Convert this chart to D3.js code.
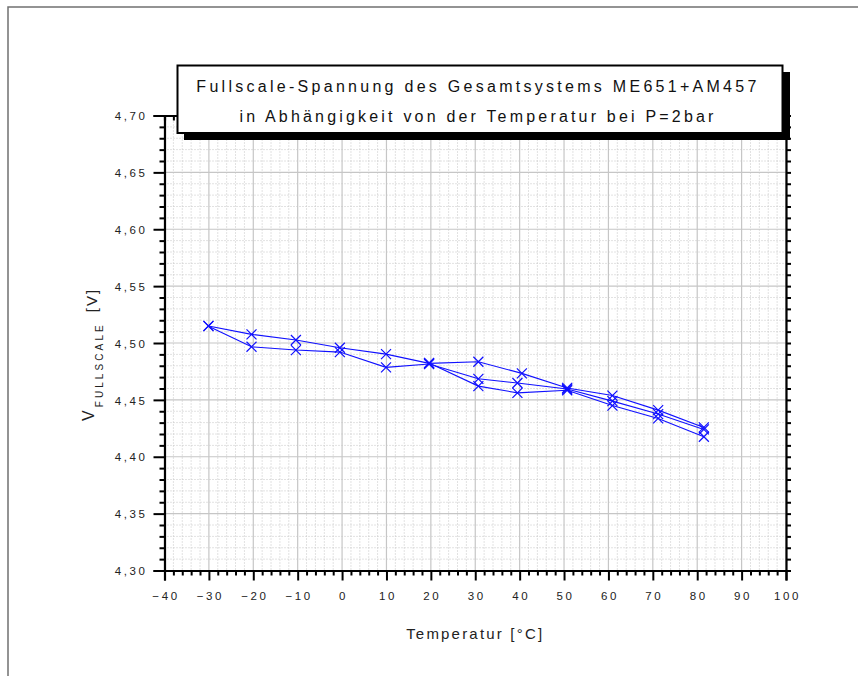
<!DOCTYPE html>
<html><head><meta charset="utf-8">
<script src="https://cdn.jsdelivr.net/npm/d3@7/dist/d3.min.js"></script>
<style>
html,body{margin:0;padding:0;background:#fff;}
svg{display:block;font-family:"Liberation Sans",Arial,sans-serif;}
</style></head>
<body>
<svg id="chart" width="858" height="676"></svg>
<script>
// ---- data ----
const titleLines = ["Fullscale-Spannung des Gesamtsystems ME651+AM457",
                    "in Abhängigkeit von der Temperatur bei P=2bar"];
const xTickValues = [-40,-30,-20,-10,0,10,20,30,40,50,60,70,80,90,100];
const yTickValues = [4.30,4.35,4.40,4.45,4.50,4.55,4.60,4.65,4.70];
const xTitle = "Temperatur [°C]";

const run1Temp = [-30.1,-20.4,-10.4,-0.5,9.9,19.6,30.7,40.5,50.7,60.9,71.2,81.5];
const run1Volt = [4.5150,4.5076,4.5026,4.4958,4.4902,4.4821,4.4835,4.4733,4.4605,4.4538,4.4410,4.4258];
const run2Temp = [-30.1,-20.4,-10.4,-0.5,9.9,19.6,30.7,39.5,50.7,60.9,71.2,81.5];
const run2Volt = [4.5148,4.4967,4.4938,4.4920,4.4786,4.4815,4.4685,4.4648,4.4595,4.4489,4.4375,4.4240];
const run3Temp = [19.6,30.7,39.5,50.7,60.9,71.2,81.5];
const run3Volt = [4.4825,4.4621,4.4562,4.4585,4.4450,4.4337,4.4176];
const runs = [[run1Temp,run1Volt],[run2Temp,run2Volt],[run3Temp,run3Volt]];

// ---- layout ----
const svg = d3.select("#chart");
const X0 = 164.5, X1 = 786, Y0 = 570.5, Y1 = 115.5;
const x = d3.scaleLinear().domain([-40,100]).range([X0,X1]);
const y = d3.scaleLinear().domain([4.30,4.70]).range([Y0,Y1]);
const blue = "#1010ff";

// outer frame
svg.append("rect").attr("x",8).attr("y",7).attr("width",900).attr("height",700)
  .attr("fill","none").attr("stroke","#707070").attr("stroke-width",1.5);

// minor grid
const xMinor = d3.range(-40,100.01,2).filter(v=>Math.abs(v%10)>0.01);
const yMinor = d3.range(0,41).map(i=>4.30+i*0.01).filter((v,i)=>i%5!==0);
const g = svg.append("g");
g.selectAll(".xm").data(xMinor).join("line")
  .attr("x1",d=>x(d)).attr("x2",d=>x(d)).attr("y1",Y1).attr("y2",Y0)
  .attr("stroke","#c4c4c4").attr("stroke-width",1).attr("stroke-dasharray","1,2");
g.selectAll(".ym").data(yMinor).join("line")
  .attr("x1",X0).attr("x2",X1).attr("y1",d=>y(d)).attr("y2",d=>y(d))
  .attr("stroke","#c4c4c4").attr("stroke-width",1).attr("stroke-dasharray","1,2");
// major grid
g.selectAll(".xM").data(xTickValues).join("line")
  .attr("x1",d=>x(d)).attr("x2",d=>x(d)).attr("y1",Y1).attr("y2",Y0)
  .attr("stroke","#c6c6c6").attr("stroke-width",1.2);
g.selectAll(".yM").data(yTickValues).join("line")
  .attr("x1",X0).attr("x2",X1).attr("y1",d=>y(d)).attr("y2",d=>y(d))
  .attr("stroke","#c6c6c6").attr("stroke-width",1.2);

// data lines
const line = d3.line().x(d=>x(d[0])).y(d=>y(d[1]));
runs.forEach(([T,V])=>{
  const pts = T.map((t,i)=>[t,V[i]]);
  svg.append("path").datum(pts).attr("d",line).attr("fill","none")
    .attr("stroke",blue).attr("stroke-width",1.1);
  svg.selectAll(null).data(pts).join("path")
    .attr("transform",d=>`translate(${x(d[0])},${y(d[1])})`)
    .attr("d","M-5,-5L5,5M-5,5L5,-5").attr("stroke",blue).attr("stroke-width",1.2).attr("fill","none");
});

// axes
const fmt = d => d.toFixed(2).replace(".",",");
const axL = svg.append("g").attr("transform",`translate(${X0},0)`)
  .call(d3.axisLeft(y).tickValues(yTickValues).tickSize(11).tickFormat(fmt));
const axLm = svg.append("g").attr("transform",`translate(${X0},0)`)
  .call(d3.axisLeft(y).tickValues(yMinor).tickSize(5).tickFormat(""));
const axB = svg.append("g").attr("transform",`translate(0,${Y0})`)
  .call(d3.axisBottom(x).tickValues(xTickValues).tickSize(10).tickFormat(d3.format("d")));
const axBm = svg.append("g").attr("transform",`translate(0,${Y0})`)
  .call(d3.axisBottom(x).tickValues(xMinor).tickSize(5).tickFormat(""));
const axR = svg.append("g").attr("transform",`translate(${X1},0)`)
  .call(d3.axisLeft(y).tickValues(yMinor.concat(yTickValues)).tickSize(-5).tickFormat(""));
const axT = svg.append("g").attr("transform",`translate(0,${Y1})`)
  .call(d3.axisTop(x).tickValues(xMinor.concat(xTickValues)).tickSize(-5).tickFormat(""));
[axL,axLm,axB,axBm,axR,axT].forEach(a=>{
  a.selectAll(".domain").attr("stroke","#000").attr("stroke-width",2.2);
  a.selectAll(".tick line").attr("stroke","#000").attr("stroke-width",2);
  a.selectAll("text").attr("fill","#222").style("font-size","11.5px")
   .style("letter-spacing","2.6px");
});
axLm.select(".domain").remove(); axBm.select(".domain").remove();
axL.selectAll("text").attr("x",-17).attr("dy","0.36em");
axB.selectAll("text").attr("y",21).attr("dx","1px");

// axis titles
svg.append("text").attr("x",x(30)).attr("y",639).attr("text-anchor","middle")
  .style("font-size","15px").style("letter-spacing","2.2px").attr("fill","#222").text(xTitle);
const yl = svg.append("text").attr("transform","translate(94,421) rotate(-90)")
  .attr("text-anchor","start").attr("fill","#222");
yl.append("tspan").style("font-size","16px").text("V");
yl.append("tspan").attr("dy",8.7).attr("dx",3).style("font-size","10px").style("letter-spacing","3.1px").text("FULLSCALE");
yl.append("tspan").attr("dy",-5.7).attr("dx",10).style("font-size","15px").style("letter-spacing","2px").text("[V]");

// title box
svg.append("rect").attr("x",184).attr("y",72).attr("width",606).attr("height",68).attr("fill","#000");
svg.append("rect").attr("x",177.5).attr("y",65.5).attr("width",605).attr("height",67.5)
  .attr("fill","#fff").attr("stroke","#000").attr("stroke-width",2);
const targets = [560, 474];
titleLines.forEach((t,i)=>{
  const el = svg.append("text").attr("x",478).attr("y",92+i*29.5).attr("text-anchor","middle")
    .style("font-size","16px").attr("fill","#111").text(t);
  const w = el.node().getComputedTextLength();
  el.style("letter-spacing",((targets[i]-w)/(t.length-1))+"px");
});
</script>
</body></html>
